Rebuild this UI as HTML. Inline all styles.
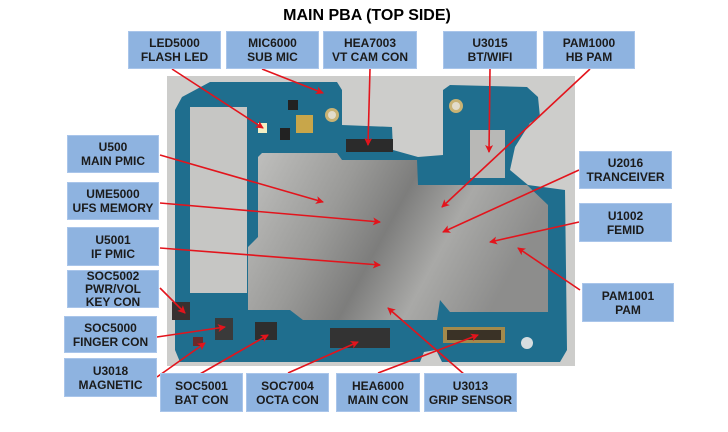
<!DOCTYPE html>
<html><head><meta charset="utf-8"><style>
html,body{margin:0;padding:0;background:#fff;}
body{width:728px;height:432px;position:relative;overflow:hidden;font-family:"Liberation Sans",sans-serif;}
.t{position:absolute;left:0;top:7px;width:734px;text-align:center;font-weight:bold;font-size:16px;color:#000;}
.b{position:absolute;background:#8eb3e0;border:1px solid #a9c5ea;box-sizing:border-box;display:flex;align-items:center;justify-content:center;text-align:center;font-weight:bold;font-size:12px;line-height:14px;color:#1b1b1b;}
svg{position:absolute;left:0;top:0;}
</style></head><body>
<svg width="728" height="432" viewBox="0 0 728 432">
<defs>
<linearGradient id="sh" x1="0" y1="0" x2="1" y2="0.3">
<stop offset="0" stop-color="#c2c2c0"/><stop offset="0.35" stop-color="#9a9a98"/><stop offset="0.55" stop-color="#7d7d7c"/><stop offset="0.75" stop-color="#a9a9a7"/><stop offset="1" stop-color="#8d8d8c"/>
</linearGradient>
<marker id="ah" markerWidth="8" markerHeight="8" refX="7" refY="4" orient="auto" markerUnits="userSpaceOnUse"><path d="M0,0 L8,4 L0,8 L2,4z" fill="#e3141c"/></marker>
</defs>
<rect x="167" y="76" width="408" height="290" fill="#cdcdcb"/>
<path d="M182,97 L210,82 L337,82 L342,90 L342,125 L392,127 L393,150 L418,157 L443,155 L443,90 L450,85 L527,87 L538,97 L540,117 L530,123 L515,147 L510,170 L528,185 L565,190 L567,350 L560,362 L442,362 L436,350 L424,352 L420,362 L180,362 L175,350 L175,110 Z" fill="#1f6e8e"/>
<path d="M190,107 L247,107 L247,293 L190,293 Z" fill="#c6c6c4"/>
<path d="M258,157 L262,153 L337,153 L342,160 L417,160 L418,185 L527,185 L548,205 L548,312 L450,312 L440,300 L437,320 L303,320 L290,310 L248,310 L248,247 L258,237 Z" fill="url(#sh)"/>
<rect x="470" y="130" width="35" height="48" fill="#b8b8b6"/>
<circle cx="332" cy="115" r="7" fill="#c9b374"/><circle cx="332" cy="115" r="4" fill="#e2dccb"/>
<circle cx="456" cy="106" r="7" fill="#c9b374"/><circle cx="456" cy="106" r="4" fill="#e2dccb"/>
<circle cx="527" cy="343" r="6" fill="#d6dde0"/>
<rect x="296" y="115" width="17" height="18" fill="#c8a64a"/>
<rect x="258" y="123" width="9" height="10" fill="#f2efc4"/>
<rect x="346" y="139" width="47" height="13" fill="#2b2b2b"/>
<rect x="330" y="328" width="60" height="20" fill="#333"/>
<rect x="443" y="327" width="62" height="16" fill="#a38a4c"/><rect x="447" y="330" width="54" height="10" fill="#3a3226"/>
<rect x="255" y="322" width="22" height="18" fill="#2e2e2e"/>
<rect x="215" y="318" width="18" height="22" fill="#3a3a3a"/>
<rect x="172" y="302" width="18" height="18" fill="#383030"/>
<rect x="193" y="337" width="10" height="9" fill="#6b2a2a"/>
<rect x="288" y="100" width="10" height="10" fill="#222"/>
<rect x="280" y="128" width="10" height="12" fill="#222"/>
<g stroke="#e3141c" stroke-width="1.6" fill="none" marker-end="url(#ah)">
<line x1="172" y1="69" x2="263" y2="128"/>
<line x1="262" y1="69" x2="323" y2="93"/>
<line x1="370" y1="69" x2="368" y2="145"/>
<line x1="490" y1="69" x2="489" y2="152"/>
<line x1="590" y1="69" x2="442" y2="207"/>
<line x1="160" y1="155" x2="323" y2="202"/>
<line x1="160" y1="203" x2="380" y2="222"/>
<line x1="160" y1="248" x2="380" y2="265"/>
<line x1="160" y1="288" x2="185" y2="313"/>
<line x1="157" y1="337" x2="225" y2="327"/>
<line x1="157" y1="377" x2="205" y2="343"/>
<line x1="200" y1="374" x2="268" y2="335"/>
<line x1="288" y1="373" x2="358" y2="342"/>
<line x1="378" y1="373" x2="478" y2="335"/>
<line x1="465" y1="375" x2="388" y2="308"/>
<line x1="579" y1="170" x2="443" y2="232"/>
<line x1="579" y1="222" x2="490" y2="242"/>
<line x1="580" y1="290" x2="518" y2="248"/>
</g>
</svg>
<div class="t">MAIN PBA (TOP SIDE)</div>
<div class="b" style="left:128px;top:31px;width:93px;height:38px">LED5000<br>FLASH LED</div>
<div class="b" style="left:226px;top:31px;width:93px;height:38px">MIC6000<br>SUB MIC</div>
<div class="b" style="left:323px;top:31px;width:94px;height:38px">HEA7003<br>VT CAM CON</div>
<div class="b" style="left:443px;top:31px;width:94px;height:38px">U3015<br>BT/WIFI</div>
<div class="b" style="left:543px;top:31px;width:92px;height:38px">PAM1000<br>HB PAM</div>
<div class="b" style="left:67px;top:135px;width:92px;height:38px">U500<br>MAIN PMIC</div>
<div class="b" style="left:67px;top:182px;width:92px;height:38px">UME5000<br>UFS MEMORY</div>
<div class="b" style="left:67px;top:227px;width:92px;height:39px">U5001<br>IF PMIC</div>
<div class="b" style="left:67px;top:270px;width:92px;height:38px;line-height:13px">SOC5002<br>PWR/VOL<br>KEY CON</div>
<div class="b" style="left:64px;top:316px;width:93px;height:37px">SOC5000<br>FINGER CON</div>
<div class="b" style="left:64px;top:358px;width:93px;height:39px">U3018<br>MAGNETIC</div>
<div class="b" style="left:160px;top:373px;width:83px;height:39px">SOC5001<br>BAT CON</div>
<div class="b" style="left:246px;top:373px;width:83px;height:39px">SOC7004<br>OCTA CON</div>
<div class="b" style="left:336px;top:373px;width:84px;height:39px">HEA6000<br>MAIN CON</div>
<div class="b" style="left:424px;top:373px;width:93px;height:39px">U3013<br>GRIP SENSOR</div>
<div class="b" style="left:579px;top:151px;width:93px;height:38px">U2016<br>TRANCEIVER</div>
<div class="b" style="left:579px;top:203px;width:93px;height:39px">U1002<br>FEMID</div>
<div class="b" style="left:582px;top:283px;width:92px;height:39px">PAM1001<br>PAM</div>
</body></html>
